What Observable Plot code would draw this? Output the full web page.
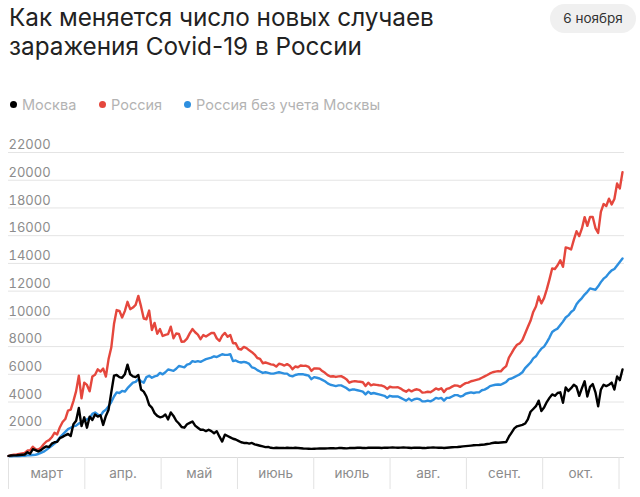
<!DOCTYPE html>
<html>
<head>
<meta charset="utf-8">
<script src="https://cdn.jsdelivr.net/npm/d3@7"></script>
<script src="https://cdn.jsdelivr.net/npm/@observablehq/plot@0.6"></script>
<style>
  html, body { margin: 0; padding: 0; background: #fff; }
  body { width: 640px; height: 497px; position: relative; overflow: hidden; font-family: Inter, "Noto Sans", sans-serif; }
  #title { position: absolute; left: 9px; top: 3px; font-size: 24.3px; line-height: 29px; color: #222; }
  #badge { position: absolute; left: 550px; top: 4px; width: 86px; height: 29px; border-radius: 14.5px; background: #f0f0f0; color: #333; font-size: 13.5px; line-height: 29px; text-align: center; }
  .leg { position: absolute; top: 96px; font-size: 14.5px; line-height: 18px; color: #b3b3b3; white-space: nowrap; }
  .leg i { display: inline-block; width: 7px; height: 7px; border-radius: 50%; margin-right: 5px; vertical-align: 2px; }
  #chart { position: absolute; left: 0; top: 120px; }
  #axis { position: absolute; left: 0; top: 457px; }
</style>
</head>
<body>
<div id="title">Как меняется число новых случаев<br>заражения Covid-19 в России</div>
<div id="badge">6 ноября</div>
<div id="legend"></div>
<div id="chart"></div>
<div id="axis"></div>
<script>
// ---- data (daily new cases, from 24 March to 6 November) ----
const startDate = "2020-03-24";
const endDate = "2020-11-06";

const russia = [
  // Mar 24-31
  100, 170, 200, 220, 260, 300, 330, 500,
  // Apr
  500, 771, 601, 582, 700, 954, 1154, 1250, 1459, 1786, 1667, 2186, 2558, 2774, 3388, 3448, 4070, 4785, 5900, 4268, 5400, 5236, 4774, 5849, 5966, 6361, 6198, 6411, 5841, 7099,
  // May
  7933, 9623, 10633, 10581, 10102, 10559, 11231, 10699, 10817, 11012, 11656, 10899, 10028, 9974, 10598, 9200, 9709, 8926, 9263, 8764, 8849, 8894, 9434, 8599, 8946, 8915, 8338, 8371, 8572, 8952, 9268,
  // Jun
  9035, 8863, 8536, 8831, 8726, 8855, 8984, 8985, 8595, 8404, 8779, 8987, 8706, 8835, 8246, 8248, 7843, 7790, 7972, 7889, 7728, 7600, 7425, 7176, 7113, 6800, 6852, 6791, 6719, 6693,
  // Jul
  6556, 6760, 6718, 6632, 6736, 6611, 6368, 6562, 6509, 6635, 6611, 6615, 6537, 6248, 6422, 6428, 6406, 6234, 6109, 5940, 5842, 5862, 5811, 5848, 5871, 5765, 5635, 5395, 5475, 5509, 5482,
  // Aug
  5462, 5427, 5159, 5394, 5204, 5267, 5241, 5212, 5189, 5118, 4945, 5102, 5057, 5061, 5065, 4969, 4839, 4748, 4892, 4767, 4870, 4921, 4852, 4676, 4696, 4744, 4711, 4829, 4980, 4897, 4993,
  // Sep
  4729, 4952, 4995, 5110, 5205, 5185, 5099, 5250, 5363, 5400, 5500, 5550, 5600, 5650, 5750, 5850, 5950, 6065, 6148, 6196, 6234, 6215, 6431, 6595, 7212, 7523, 7867, 8135, 8232, 8481,
  // Oct
  8945, 9412, 9859, 10499, 10888, 11615, 11115, 11493, 12126, 12846, 13634, 13592, 13868, 14231, 13754, 15150, 15099, 15000, 15700, 16319, 15971, 16521, 17340, 16710, 17347, 17347, 16550, 16202, 17717, 18283, 18140,
  // Nov 1-6
  18665, 18257, 18648, 19768, 19404, 20582
];

const moscow = [
  // Mar 24-31
  120, 140, 150, 160, 180, 200, 220, 380,
  // Apr
  270, 595, 536, 434, 536, 697, 800, 750, 1000, 1100, 1124, 1400, 1489, 1600, 1700, 1550, 2400, 2649, 3570, 2263, 2900, 2150, 2950, 2700, 3100, 2950, 3050, 2350, 3000, 3450,
  // May
  4700, 5900, 5950, 5800, 5750, 6000, 6700, 6000, 5850, 5800, 5950, 4900, 4750, 4400, 3800, 3600, 3200, 3000, 2900, 2950, 3100, 2750, 3250, 3000, 2650, 2450, 2200, 2150, 2400, 2500, 2600,
  // Jun
  2300, 2150, 2000, 2000, 1900, 2000, 1900, 1750, 1900, 1500, 1150, 1650, 1550, 1450, 1350, 1300, 1200, 1100, 1050, 1050, 1000, 1050, 950, 900, 850, 800, 750, 760, 700, 680,
  // Jul
  700, 690, 690, 680, 700, 690, 680, 700, 690, 670, 650, 640, 630, 620, 630, 640, 650, 660, 650, 660, 670, 670, 660, 680, 680, 670, 660, 680, 690, 690, 700,
  // Aug
  700, 690, 680, 700, 710, 700, 710, 700, 690, 710, 700, 710, 720, 710, 700, 710, 720, 710, 700, 690, 710, 700, 710, 690, 680, 700, 710, 720, 710, 700, 710,
  // Sep
  683, 700, 720, 740, 750, 760, 780, 800, 820, 840, 860, 880, 890, 900, 920, 940, 970, 1000, 1050, 1080, 1060, 1080, 1100, 1120, 1500, 1800, 2100, 2250, 2300, 2350,
  // Oct
  2450, 2750, 3300, 3500, 3700, 4100, 3350, 3600, 4000, 4300, 4550, 4450, 4650, 4700, 3950, 5050, 4800, 5000, 5250, 5100, 4450, 5000, 5500, 4400, 5100, 5300, 4700, 3700, 4900, 5250, 5150,
  // Nov 1-6
  5250, 5400, 4900, 5850, 5580, 6350
];

const russiaExMoscow = [
  // Mar 24-31
  80, 90, 100, 100, 110, 120, 130, 150,
  // Apr
  160, 180, 200, 250, 340, 420, 550, 700, 850, 1000, 1200, 1450, 1650, 1850, 2050, 2150, 2250, 2300, 2450, 2500, 2650, 2750, 2850, 3150, 3250, 3100, 3000, 3300, 3450, 3700,
  // May
  4000, 4400, 4700, 4650, 4800, 4750, 5000, 5200, 5400, 5450, 5650, 5500, 5400, 5800, 5900, 5750, 5850, 5900, 6100, 6000, 6150, 6350, 6300, 6250, 6400, 6600, 6550, 6500, 6700, 6750, 6950,
  // Jun
  6900, 6950, 6900, 7000, 7100, 7150, 7200, 7300, 7250, 7350, 7450, 7400, 7400, 7450, 6950, 7000, 6900, 6850, 6900, 6850, 6750, 6500, 6450, 6300, 6200, 6100, 6150, 6100, 6050, 6050,
  // Jul
  6100, 6150, 6100, 6050, 6050, 5900, 5850, 5950, 6000, 6000, 6000, 5950, 5900, 5650, 5800, 5750, 5700, 5600, 5500, 5350, 5250, 5200, 5150, 5200, 5200, 5100, 5000, 4850, 4900, 4900, 4850,
  // Aug
  4800, 4750, 4550, 4750, 4600, 4650, 4600, 4550, 4500, 4450, 4300, 4450, 4400, 4400, 4400, 4300, 4200, 4100, 4250, 4100, 4200, 4250, 4200, 4050, 4050, 4100, 4050, 4150, 4300, 4250, 4300,
  // Sep
  4100, 4300, 4300, 4400, 4500, 4500, 4400, 4450, 4600, 4650, 4700, 4650, 4700, 4700, 4850, 4900, 5000, 5150, 5200, 5250, 5270, 5250, 5350, 5450, 5650, 5700, 5800, 5900, 6000, 6150,
  // Oct
  6450, 6650, 6850, 7150, 7300, 7600, 7850, 8000, 8300, 8650, 9050, 9200, 9300, 9550, 9800, 10100, 10250, 10500, 10650, 11050, 11300, 11500, 11750, 11950, 12200, 12150, 12100, 12350, 12650, 12900, 13050,
  // Nov 1-6
  13300, 13500, 13600, 13850, 14100, 14350
];

const seriesNames = ["Москва", "Россия", "Россия без учета Москвы"];
const seriesColors = ["#000000", "#e5473d", "#2d8fdf"];

const yTicks = [0, 2000, 4000, 6000, 8000, 10000, 12000, 14000, 16000, 18000, 20000, 22000];
const yLabels = [2000, 4000, 6000, 8000, 10000, 12000, 14000, 16000, 18000, 20000, 22000];
const monthLabels = ["март", "апр.", "май", "июнь", "июль", "авг.", "сент.", "окт."];

// ---- build ----
const t0 = new Date(startDate + "T00:00:00Z");
const dates = russia.map((_, i) => d3.utcDay.offset(t0, i));

// legend
const legendLeft = [10, 99, 184];
const legend = document.getElementById("legend");
seriesNames.forEach((name, i) => {
  const el = document.createElement("div");
  el.className = "leg";
  el.style.left = legendLeft[i] + "px";
  el.innerHTML = `<i style="background:${seriesColors[i]}"></i>${name}`;
  legend.appendChild(el);
});

const lineOpts = (color) => ({
  x: (d, i) => dates[i], y: d => d, stroke: color, strokeWidth: 2.4,
  strokeLinejoin: "round", strokeLinecap: "round"
});

const chart = Plot.plot({
  width: 640,
  height: 341,
  marginLeft: 8,
  marginRight: 16,
  marginTop: 32,
  marginBottom: 4,
  style: { fontFamily: "Inter, 'Noto Sans', sans-serif", fontSize: "13px", background: "transparent" },
  x: { type: "utc", domain: [t0, new Date(endDate + "T00:00:00Z")], range: [8, 622], axis: null },
  y: { domain: [0, 22000], axis: null },
  marks: [
    Plot.ruleY(yTicks.filter(d => d > 0), { stroke: "#e4e4e4", strokeWidth: 1 }),
    Plot.ruleY([0], { stroke: "#dadada", strokeWidth: 1 }),
    Plot.axisY({
      ticks: yLabels, tickSize: 0, tickPadding: 0, textAnchor: "start",
      dy: -7.5, tickFormat: d => String(d), fill: "#8c8c8c", label: null, fontSize: 13
    }),
    Plot.line(russiaExMoscow, lineOpts(seriesColors[2])),
    Plot.line(russia, lineOpts(seriesColors[1])),
    Plot.line(moscow, lineOpts(seriesColors[0]))
  ]
});
document.getElementById("chart").appendChild(chart);

const axis = Plot.plot({
  width: 640,
  height: 40,
  marginLeft: 8,
  marginRight: 21.5,
  marginTop: 0,
  marginBottom: 8,
  style: { fontFamily: "Inter, 'Noto Sans', sans-serif", fontSize: "13px", background: "transparent" },
  x: { domain: [0, monthLabels.length], axis: null },
  y: { axis: null },
  marks: [
    Plot.ruleX(d3.range(monthLabels.length + 1), { stroke: "#e2e2e2", strokeWidth: 1 }),
    Plot.text(monthLabels, { x: (d, i) => i + 0.5, frameAnchor: "middle", fill: "#8c8c8c", fontSize: 13.5, dy: 0 })
  ]
});
document.getElementById("axis").appendChild(axis);
</script>
</body>
</html>
